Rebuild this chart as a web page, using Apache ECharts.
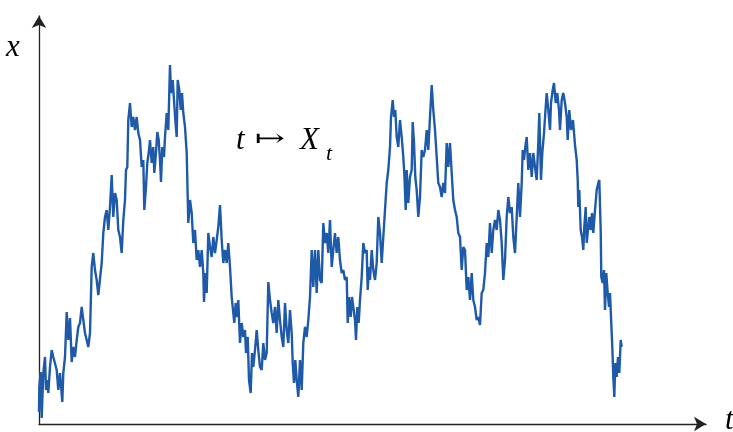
<!DOCTYPE html>
<html><head><meta charset="utf-8">
<script src="https://cdn.jsdelivr.net/npm/echarts@6/dist/echarts.min.js"></script>
<style>html,body{margin:0;padding:0;background:#fff}#c{width:733px;height:432px}</style>
</head><body><div id="c"></div>
<script>
const tValues = [0,0.3,1.7,2.7,4.3,6,7,8.3,9.3,11,12.7,14.3,16,17.7,19.3,21,23.3,24.3,26,27.7,29.3,31,32.7,34.3,36,37.7,39.3,41,42.7,44.3,46,47.7,49.3,51,52.7,54.3,56,57.7,59.3,61,62.7,
64.3,66,67.7,69.3,71,72.7,74.3,76,77.7,79.3,81,82.7,84.3,86,87,88.3,89.3,91,92.7,94.3,96,97.7,99.3,101,102.7,104.3,105.3,107,108.3,109.7,111,112.7,114.3,115.3,117,118.3,119.7,121,122,123.3,125,126,127.7,129.3,131,132,133.7,135,136.3,137.7,138.7,140.3,141.7,143,144.3,146,147.7,
149.3,151,152.7,154.3,156,157.7,159.3,161,162.7,164.3,165,166.3,167.7,169.3,171,172.7,174.3,176,177.7,179.3,181,182.7,184.3,186,187.7,189.3,191,192.7,194.3,195.3,196.7,198.3,199.3,201,202.7,204.3,206,207,208.7,210,211.7,213,214.3,216,217.7,219.3,221,222.7,224.3,226,227.7,229.3,231,232.7,234.3,236,237.7,239.3,241,242.7,
244.3,246,247.7,249.3,251,252.7,253.7,255,256.3,257.7,259.3,261,262.7,264.3,266,267.7,269.3,271,272.7,274.3,276,277.7,279.3,281,282.7,284.3,286,287.7,289.3,291,292.7,294.3,296,297.7,299.3,301,302.7,304.3,306,307.7,308.7,310,311.7,313,314.3,316,317,318.3,319.7,321,322.7,324.3,326,327.7,328.7,330,331,332.7,334.3,336,337.7,
339.3,341,342.7,344.3,346,347.7,349.3,351,352,353.7,355,356.3,357.7,359.3,361,362.7,364.3,365.3,366.7,367.7,369.3,371,372.7,373.7,375,376.3,377.7,379.3,381,382.7,384.3,386,387.7,389.3,391,392.7,394.3,396,397.7,399.3,401,402.7,404.3,406,407.7,409.3,411,412.7,414.3,416,417.7,419.3,
421,422.7,424.3,426,427.7,429.3,431,432.7,434.3,436,437.7,439.3,441,442.7,444.3,446,447.7,449.3,451,452.7,454.3,456,457.7,459.3,461,462.7,464.3,466,467.7,469.3,471,472.7,474.3,476,477.7,479.3,481,482.7,483.7,485,486.3,487.7,489.3,491,492.7,494.3,496,497.7,499.3,500.3,502,503.3,505,506.3,507.7,509.3,511,512,513.7,515,516.7,518.3,520,521,522.7,524.3,526,527.7,528.7,530.3,532,534,536,
537.7,538.7,539.3,540.3,541.7,543,544.3,545.3,546.7,547.7,549.3,550.3,551.7,553,554.3,556,557.7,559.3,560.3,561.7,562.3,563.7,565,566,567.3,568.7,570,571,572,573.3,574.3,575.3,576.3,577.7,579,580.3,581.7,582.7];
const xValues = [12,37,52,6,51,67,34,44,31,57,74,67,69,54,34,51,22,51,67,112,84,106,62,77,67,84,97,101,117,104,91,84,77,91,157,171,154,144,129,131,161,
191,207,214,194,217,249,207,231,224,194,187,171,204,224,254,257,304,321,297,307,294,307,291,284,257,264,214,237,261,271,284,261,277,251,271,292,284,264,242,277,267,287,311,294,359,331,344,324,304,287,344,334,314,331,311,297,271,
201,224,211,181,194,164,174,157,174,151,122,151,131,191,177,167,187,171,184,197,219,184,161,174,161,181,157,127,111,101,121,107,124,81,101,87,94,71,87,44,31,71,57,74,94,74,57,54,81,64,71,142,124,111,101,117,91,124,104,87,
77,121,94,81,114,91,61,41,64,44,27,64,34,81,97,87,104,127,174,137,174,131,174,144,141,201,181,191,171,204,157,174,191,171,187,164,151,154,144,147,101,127,107,127,117,104,84,117,101,124,147,181,171,174,134,157,144,174,154,144,161,
207,191,161,187,214,241,254,277,307,324,307,314,287,277,304,287,267,251,214,254,221,247,254,302,281,247,234,207,227,274,267,274,294,274,307,339,314,294,267,241,237,227,241,231,281,257,281,251,224,214,207,191,
187,154,177,174,134,147,124,151,124,117,104,107,99,131,134,151,181,167,201,171,194,204,194,214,204,181,144,164,207,227,211,217,187,171,207,241,207,241,274,264,277,287,254,271,247,271,257,244,281,311,244,271,291,311,331,314,294,321,334,341,321,331,314,294,324,331,321,307,284,314,294,304,279,
264,244,217,234,194,187,174,197,217,181,197,207,194,211,191,214,234,241,244,194,147,141,154,114,151,131,117,131,107,77,47,27,61,47,67,51,84,77];

const data = tValues.map((t, i) => [t, xValues[i]]);
const chart = echarts.init(document.getElementById('c'), null, {renderer: 'canvas'});
const axisLine = {show: true, symbol: ['none', 'arrow'], symbolSize: [11, 12], lineStyle: {color: '#222', width: 1.3}};
chart.setOption({
  animation: false,
  backgroundColor: '#fff',
  grid: {left: 39, right: 27, top: 16, bottom: 8, containLabel: false},
  xAxis: {type: 'value', min: 0, max: 667, axisLine: axisLine, axisTick: {show: false}, axisLabel: {show: false}, splitLine: {show: false}},
  yAxis: {type: 'value', min: 0, max: 408, axisLine: axisLine, axisTick: {show: false}, axisLabel: {show: false}, splitLine: {show: false}},
  series: [{type: 'line', data: data, showSymbol: false, symbol: 'none', lineStyle: {color: '#1f5aa8', width: 2.4}, itemStyle: {color: '#1f5aa8'}}],
  graphic: [
    {type: 'text', left: 6, top: 32, style: {text: 'x', font: 'italic 31px "Liberation Serif"', fill: '#000'}},
    {type: 'text', left: 725, top: 405, style: {text: 't', font: 'italic 31px "Liberation Serif"', fill: '#000'}},
    {type: 'text', left: 236, top: 125, style: {text: 't', font: 'italic 31px "Liberation Serif"', fill: '#000'}},
    {type: 'text', left: 255, top: 128, scaleX: 1.5, style: {text: '\u21A6', font: '24px "DejaVu Serif"', fill: '#000'}},
    {type: 'text', left: 300, top: 125, style: {text: 'X', font: 'italic 31px "Liberation Serif"', fill: '#000'}},
    {type: 'text', left: 326, top: 143, style: {text: 't', font: 'italic 22px "Liberation Serif"', fill: '#000'}}
  ]
});
</script></body></html>
